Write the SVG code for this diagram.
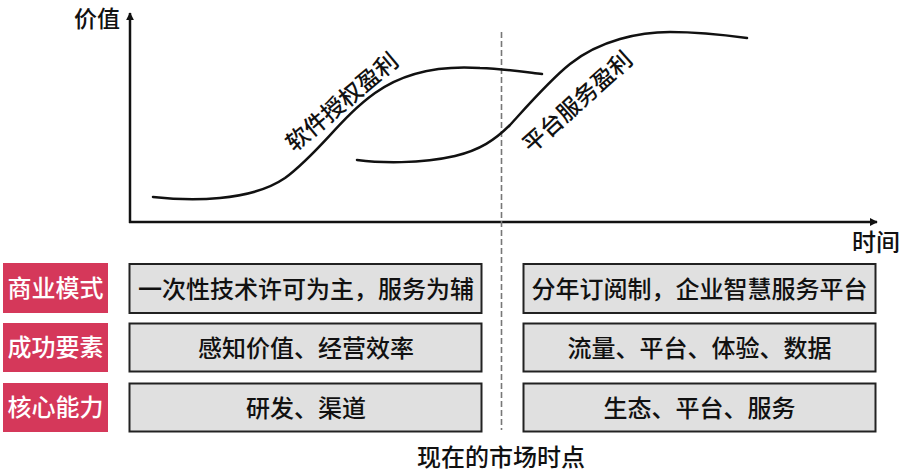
<svg xmlns="http://www.w3.org/2000/svg" width="900" height="473" viewBox="0 0 900 473">
  <style>
    text { font-family: "Noto Sans CJK SC", "Noto Sans", "Liberation Sans", sans-serif; fill: #111; font-weight: 500; }
    .lbl { font-size: 24px; text-anchor: middle; }
    .red rect { fill: #D5385A; }
    .red text { fill: #ffffff; font-size: 24px; text-anchor: middle; }
    .box rect { fill: #E0E0E0; stroke: #222; stroke-width: 2; }
    .box text { font-size: 24px; text-anchor: middle; }
    .axis { stroke: #111; stroke-width: 2.5; fill: none; }
    .curve { stroke: #111; stroke-width: 2.5; fill: none; stroke-linecap: round; }
    .dash { stroke: #777; stroke-width: 1.6; stroke-dasharray: 6 3; fill: none; }
  </style>
  <defs>
    <marker id="arr" viewBox="0 0 10 10" refX="9" refY="5" markerWidth="3.2" markerHeight="3.2" orient="auto" markerUnits="strokeWidth">
      <path d="M0,0 L10,5 L0,10 z" fill="#111"/>
    </marker>
  </defs>
  <rect width="900" height="473" fill="#ffffff"/>

  <g id="connectors">
    <line class="axis" x1="130" y1="223" x2="130" y2="13" marker-end="url(#arr)"/>
    <line class="axis" x1="129" y1="222" x2="877" y2="222" marker-end="url(#arr)"/>
    <line class="dash" x1="501.5" y1="32" x2="501.5" y2="430"/>
  </g>

  <g id="axis-labels">
    <text class="lbl" x="97" y="27" style="font-size:23px">价值</text>
    <text class="lbl" x="876" y="251">时间</text>
    <text class="lbl" x="501" y="466">现在的市场时点</text>
  </g>

  <g id="curve-software">
    <path class="curve" d="M153,197 C190,201 250,202 285,178 C320,152 340,118 375,93 C410,68 450,66 480,68 C505,69 525,72 542,74"/>
    <text font-size="23" text-anchor="middle" transform="translate(342,102) rotate(-40)" y="8">软件授权盈利</text>
  </g>

  <g id="curve-platform">
    <path class="curve" d="M357,160 C380,163 420,164 455,156 C480,150 495,140 510,125 C530,103 550,80 570,64 C600,40 640,32 670,32 C700,32 725,35 747,38"/>
    <text font-size="23" text-anchor="middle" transform="translate(577.5,102) rotate(-42)" y="8">平台服务盈利</text>
  </g>

  <g id="row-label-1" class="red">
    <rect x="3" y="263" width="105" height="50"/>
    <text x="55.5" y="297">商业模式</text>
  </g>
  <g id="row-label-2" class="red">
    <rect x="3" y="323" width="105" height="49"/>
    <text x="55.5" y="356">成功要素</text>
  </g>
  <g id="row-label-3" class="red">
    <rect x="3" y="383" width="105" height="49"/>
    <text x="55.5" y="416">核心能力</text>
  </g>

  <g id="left-box-1" class="box">
    <rect x="129.5" y="264" width="352" height="49"/>
    <text x="306" y="298">一次性技术许可为主，服务为辅</text>
  </g>
  <g id="left-box-2" class="box">
    <rect x="129.5" y="323.5" width="352" height="48"/>
    <text x="306" y="357">感知价值、经营效率</text>
  </g>
  <g id="left-box-3" class="box">
    <rect x="129.5" y="383.5" width="352" height="48"/>
    <text x="306" y="417">研发、渠道</text>
  </g>

  <g id="right-box-1" class="box">
    <rect x="523.5" y="264" width="352" height="49"/>
    <text x="699.5" y="298">分年订阅制，企业智慧服务平台</text>
  </g>
  <g id="right-box-2" class="box">
    <rect x="523.5" y="323.5" width="352" height="48"/>
    <text x="699.5" y="357">流量、平台、体验、数据</text>
  </g>
  <g id="right-box-3" class="box">
    <rect x="523.5" y="383.5" width="352" height="48"/>
    <text x="699.5" y="417">生态、平台、服务</text>
  </g>
</svg>
